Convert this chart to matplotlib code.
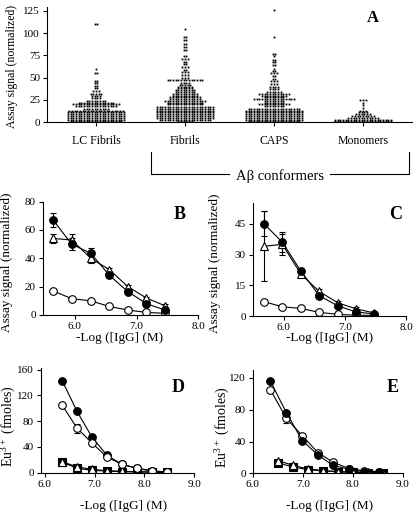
import numpy as np
import matplotlib
matplotlib.use("Agg")
import matplotlib.pyplot as plt

plt.rcParams['font.family'] = ['Liberation Serif', 'DejaVu Serif']
plt.rcParams['mathtext.fontset'] = 'custom'
plt.rcParams['mathtext.rm'] = 'Liberation Serif'

# ---- panel A: dot plot (row value, number of dots in row) ----
categories = ["LC Fibrils", "Fibrils", "CAPS", "Monomers"]

lc_vals = [1, 3, 5, 7, 9, 11, 13, 15, 18, 20, 22, 24, 27, 30, 32, 35, 38, 41, 44, 46, 55, 60, 110]
lc_counts = [20, 22, 22, 22, 22, 22, 21, 10, 16, 18, 14, 8, 4, 4, 5, 3, 2, 2, 2, 2, 2, 1, 2]

fib_vals = [1, 3, 5, 7, 9, 11, 13, 15, 17, 20, 22, 24, 26, 28, 30, 32, 34, 36, 38, 40, 42, 44,
            47, 50, 53, 56, 59, 62, 65, 68, 71, 74, 81, 84, 88, 92, 95, 104]
fib_counts = [6, 20, 22, 22, 22, 22, 22, 22, 22, 14, 14, 16, 12, 12, 10, 10, 8, 8, 6, 6, 5, 4,
              14, 3, 3, 3, 2, 3, 2, 2, 3, 2, 2, 2, 2, 2, 2, 1]

caps_vals = [1, 3, 5, 7, 9, 11, 13, 15, 18, 20, 22, 24, 26, 28, 30, 32, 34, 37, 40, 43, 46, 49,
             52, 55, 57, 60, 64, 67, 70, 74, 77, 95, 126]
caps_counts = [20, 22, 22, 22, 22, 22, 22, 20, 8, 12, 8, 8, 16, 8, 10, 12, 6, 4, 4, 3, 3, 2,
               2, 3, 2, 1, 2, 2, 2, 1, 2, 1, 1]

mono_vals = [1, 3, 5, 7, 9, 11, 13, 16, 19, 22, 25]
mono_counts = [22, 22, 12, 9, 6, 4, 3, 1, 1, 1, 3]

# ---- panel B ----
b_x = [5.65, 5.95, 6.26, 6.56, 6.86, 7.16, 7.46]
b_filled = [67, 50, 43.5, 28, 16.5, 8, 3.5]
b_filled_err = [5, 4, 4, 2, 2, 2, 1]
b_tri = [54, 53, 40, 32, 20, 12, 6.5]
b_tri_err = [3, 4, 3, 1, 1, 1, 1]
b_open = [17, 11.5, 10, 6, 3.5, 1.8, 1.2]

# ---- panel C ----
c_x = [5.68, 5.98, 6.28, 6.58, 6.88, 7.18, 7.48]
c_filled = [45, 36, 22, 10, 5, 2, 1]
c_filled_err = [6, 5, 1, 1, 1, 1, 0.5]
c_tri = [34, 35, 20.5, 12, 6.5, 3.5, 1.5]
c_tri_err = [17, 5, 1, 1, 1, 1, 0.5]
c_open = [7, 4.5, 3.7, 1.8, 0.8, 0.4, 0.3]

# ---- panel D ----
d_x = [6.35, 6.65, 6.95, 7.25, 7.55, 7.85, 8.15, 8.45]
d_filled = [143, 95, 55, 27, 13, 7, 3, 1]
d_open = [105, 69, 46, 24, 13, 6.5, 2.5, 1]
d_open_err = [2, 7, 2, 1, 1, 1, 1, 1]
d_tri = [17, 9, 5, 3, 2, 1.5, 1, 0.5]
d_sq = [16, 7, 3.5, 2.5, 1.5, 1, 0.8, 0.4]

# ---- panel E ----
e_x_circ = [6.35, 6.67, 6.99, 7.3, 7.6, 7.92, 8.22, 8.52]
e_filled = [116, 76, 41, 23, 10, 5, 2, 1]
e_open = [105, 69, 47, 26, 14, 6, 3, 2]
e_open_err = [2, 6, 2, 1, 1, 1, 1, 1]
e_x_tri = [6.5, 6.8, 7.1, 7.4, 7.7, 8.0, 8.3, 8.6]
e_tri = [16, 10, 5.5, 3.5, 2, 1.5, 1, 0.8]
e_sq = [13, 8, 4.5, 3, 2, 1.2, 0.8, 0.5]

W, H = 416, 513
fig = plt.figure(figsize=(W / 100, H / 100), dpi=100)


def style(ax):
    ax.spines['top'].set_visible(False)
    ax.spines['right'].set_visible(False)
    for s in ['left', 'bottom']:
        ax.spines[s].set_linewidth(0.8)
    ax.tick_params(direction='out', length=3, width=0.8, labelsize=8, pad=2)


# panel A
axA = fig.add_axes([0.113, 0.7616, 0.877, 0.2245])
style(axA)
dx = 0.03
groups = [(lc_vals, lc_counts), (fib_vals, fib_counts), (caps_vals, caps_counts), (mono_vals, mono_counts)]
for i, (vals, counts) in enumerate(groups):
    xs, ys = [], []
    for v, n in zip(vals, counts):
        off = (np.arange(n) - (n - 1) / 2) * dx
        xs.extend(i + 1 + off)
        ys.extend([v] * n)
    axA.plot(xs, ys, 's', color='black', markersize=1.3, markeredgewidth=0)
axA.set_xlim(0.45, 4.55)
axA.set_ylim(0, 129)
axA.set_yticks([0, 25, 50, 75, 100, 125])
axA.set_xticks([1, 2, 3, 4])
axA.set_xticklabels(categories, fontsize=8.5)
axA.tick_params(axis='x', pad=6)
fig.text(12 / W, 1 - 67 / H, "Assay signal (normalized)", rotation=90, ha='center', va='center', fontsize=8.5)
fig.text(373 / W, 1 - 18 / H, "A", fontsize=12, fontweight='bold', ha='center', va='center')

# bracket for A-beta conformers
yb0, yb1 = 1 - 152 / H, 1 - 174 / H
xb0, xb1 = 151 / W, 409 / W
fig.add_artist(plt.Line2D([xb0, xb0, xb1, xb1], [yb0, yb1, yb1, yb0], color='black', lw=0.8))
fig.text(280 / W, 1 - 176 / H, "A\u03b2 conformers", fontsize=10.5, ha='center', va='center',
         bbox=dict(facecolor='white', edgecolor='none', pad=4))

mk = dict(markersize=5.5, markeredgewidth=0.8, color='black', lw=0.8)
eb = dict(ecolor='black', elinewidth=0.8, capsize=2, capthick=0.8, fmt='none')
xlab = "-Log ([IgG] (M)"

# panel B
axB = fig.add_axes([0.1026, 0.386, 0.374, 0.2209])
style(axB)
axB.errorbar(b_x, b_filled, yerr=b_filled_err, **eb)
axB.errorbar(b_x, b_tri, yerr=b_tri_err, **eb)
axB.plot(b_x, b_open, '-o', mfc='white', **mk)
axB.plot(b_x, b_tri, '-^', mfc='white', **mk)
axB.plot(b_x, b_filled, '-o', mfc='black', **mk)
axB.set_xlim(5.48, 8.0)
axB.set_ylim(0, 80)
axB.set_xticks([6, 7, 8])
axB.set_xticklabels(["6.0", "7.0", "8.0"])
axB.set_yticks([0, 20, 40, 60, 80])
fig.text(7 / W, 1 - 262 / H, "Assay signal (normalized)", rotation=90, ha='center', va='center', fontsize=9.5)
fig.text(120 / W, 1 - 338 / H, xlab, ha='center', va='center', fontsize=9.5)
fig.text(180 / W, 1 - 215 / H, "B", fontsize=13, fontweight='bold', ha='center', va='center')

# panel C
axC = fig.add_axes([0.608, 0.384, 0.3685, 0.2197])
style(axC)
axC.errorbar(c_x, c_filled, yerr=c_filled_err, **eb)
axC.errorbar(c_x, c_tri, yerr=c_tri_err, **eb)
axC.plot(c_x, c_open, '-o', mfc='white', **mk)
axC.plot(c_x, c_tri, '-^', mfc='white', **mk)
axC.plot(c_x, c_filled, '-o', mfc='black', **mk)
axC.set_xlim(5.5, 8.0)
axC.set_ylim(0, 55)
axC.set_xticks([6, 7, 8])
axC.set_xticklabels(["6.0", "7.0", "8.0"])
axC.set_yticks([0, 15, 30, 45])
fig.text(215 / W, 1 - 263 / H, "Assay signal (normalized)", rotation=90, ha='center', va='center', fontsize=9.5)
fig.text(330 / W, 1 - 338 / H, xlab, ha='center', va='center', fontsize=9.5)
fig.text(396 / W, 1 - 215 / H, "C", fontsize=13, fontweight='bold', ha='center', va='center')

# panel D
axD = fig.add_axes([0.0978, 0.0774, 0.369, 0.2047])
style(axD)
axD.errorbar(d_x, d_open, yerr=d_open_err, **eb)
axD.plot(d_x, d_sq, '-s', mfc='black', **mk)
axD.plot(d_x, d_tri, '-^', mfc='white', **mk)
axD.plot(d_x, d_filled, '-o', mfc='black', **mk)
axD.plot(d_x, d_open, '-o', mfc='white', **mk)
axD.set_xlim(5.92, 9.0)
axD.set_ylim(-1, 162)
axD.set_xticks([6, 7, 8, 9])
axD.set_xticklabels(["6.0", "7.0", "8.0", "9.0"])
axD.set_yticks([0, 40, 80, 120, 160])
fig.text(8 / W, 1 - 426 / H, r"Eu$^{\mathrm{3+}}$ (fmoles)", rotation=90, ha='center', va='center', fontsize=10)
fig.text(124 / W, 1 - 506 / H, xlab, ha='center', va='center', fontsize=9.5)
fig.text(178 / W, 1 - 387 / H, "D", fontsize=13, fontweight='bold', ha='center', va='center')

# panel E
axE = fig.add_axes([0.608, 0.0774, 0.3606, 0.2014])
style(axE)
axE.errorbar(e_x_circ, e_open, yerr=e_open_err, **eb)
axE.plot(e_x_tri, e_sq, '-s', mfc='black', **mk)
axE.plot(e_x_tri, e_tri, '-^', mfc='white', **mk)
axE.plot(e_x_circ, e_open, '-o', mfc='white', **mk)
axE.plot(e_x_circ, e_filled, '-o', mfc='black', **mk)
axE.set_xlim(6.0, 9.0)
axE.set_ylim(0, 130)
axE.set_xticks([6, 7, 8, 9])
axE.set_xticklabels(["6.0", "7.0", "8.0", "9.0"])
axE.set_yticks([0, 40, 80, 120])
fig.text(222 / W, 1 - 427 / H, r"Eu$^{\mathrm{3+}}$ (fmoles)", rotation=90, ha='center', va='center', fontsize=10)
fig.text(330 / W, 1 - 506 / H, xlab, ha='center', va='center', fontsize=9.5)
fig.text(393 / W, 1 - 388 / H, "E", fontsize=13, fontweight='bold', ha='center', va='center')

fig.savefig("out.png", dpi=100)
